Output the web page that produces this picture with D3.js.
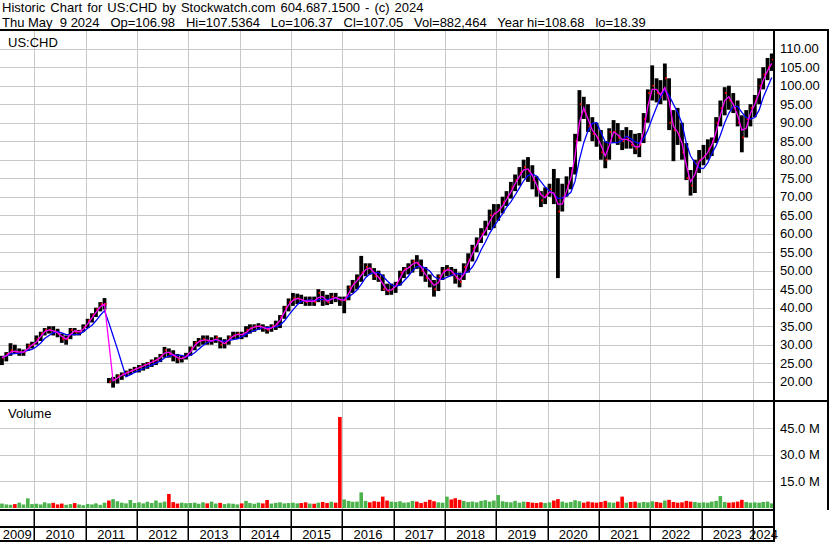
<!DOCTYPE html>
<html>
<head>
<meta charset="utf-8">
<script src="https://cdn.jsdelivr.net/npm/d3@7"></script>
<style>
  body { margin: 0; background: #fff; }
  svg { display: block; font-family: "Liberation Sans", Arial, sans-serif; }
</style>
</head>
<body>
<svg id="chart" width="830" height="543"></svg>
<script>
//Monthly bars from May 2009 to May 2024 (one value per month)
let startYear = 2009, startMonth = 4;

let priceHigh = [
  27, 28, 30.4, 30, 29, 28.7, 30.3, 30.8,
  32.5, 33.5, 34.5, 35, 35, 34.3, 33, 32.5, 34.5, 34.5, 34, 35.5,
  37, 38.5, 40, 41.5, 42.6, 21, 21.3, 22, 22.5, 23, 23.5, 24,
  24.5, 25, 25.3, 26, 26.6, 27.5, 29.4, 29, 28.5, 27.5, 27, 27.8,
  29.5, 31, 31.8, 32.5, 32.5, 32, 32.5, 32, 31.5, 32.5, 33.5, 33.5,
  33.5, 35, 35.5, 35.5, 35.8, 35.5, 35, 35.5, 36.5, 38, 40.5, 42.5,
  44, 43.8, 43.5, 43, 43, 43, 45, 44.5, 43.5, 44, 44, 43,
  43, 46, 47.5, 49, 54, 52, 52, 50.7, 50, 49, 46.5, 46.5,
  47, 50, 51, 52, 53, 54.2, 53, 51, 49, 47.5, 49, 51,
  51.5, 51, 50.5, 49.5, 52, 54.7, 57, 59, 61.5, 63.5, 66.5, 68,
  68, 70, 71.5, 74, 76, 78, 80, 80.7, 78.5, 75.5, 71.5, 72.5,
  73.5, 77.5, 75, 73.5, 75.5, 78, 87, 98.8, 97, 95, 91.5, 90,
  88, 85, 88.5, 90.7, 89.9, 88, 88.8, 88, 87, 87.2, 92.6, 99,
  105.5, 102, 101.5, 106, 102, 93.4, 94, 90, 84.5, 77.2, 80, 82.6,
  84, 85.5, 86, 91.5, 96, 99.6, 100, 98, 96, 92, 93.4, 95,
  97.5, 102, 105, 107.5, 108.7
];

let priceLow = [
  24.5, 25.5, 27, 27.5, 27, 27, 28.3, 29,
  30, 31, 32.5, 33, 32.5, 32, 30.5, 30, 31.5, 32.5, 32.5, 33.5,
  34.5, 36, 37.5, 39, 39.5, 19.6, 18.4, 19.5, 20.5, 21.5, 21.8, 22.5,
  22.5, 23, 23.5, 24, 24.5, 25.3, 26.5, 26.5, 25.5, 25, 25.2, 26,
  27, 28.5, 29.5, 30, 30, 30, 30.5, 29, 29, 30, 31.5, 31.5,
  31.5, 32, 33, 33.5, 34, 33.5, 33, 33.5, 34, 34.5, 37, 39,
  40.5, 41, 41, 40.5, 40.5, 40.5, 41.5, 40.5, 40.7, 41, 41.5, 40.5,
  38.5, 42, 44, 45, 47, 48.5, 49, 47.5, 47, 44.5, 43.4, 43.5,
  44, 46, 48, 49, 49.5, 50.5, 48.5, 47, 45.5, 43, 44.5, 47.5,
  48.5, 48.5, 46.5, 45.5, 47.5, 49.5, 52.5, 55, 57.5, 59.5, 61, 61.5,
  63.5, 65.5, 67.5, 69.5, 71.5, 73, 75, 74, 72, 70, 67.2, 68,
  70, 68, 48, 66, 70, 72, 76, 85, 91, 87.5, 85, 83.5,
  80, 77.7, 80, 84.5, 84, 82.6, 83, 83, 81.5, 80.7, 84.5, 90,
  96, 95.5, 95, 96, 88, 79.6, 84, 80, 74.5, 70.3, 71, 76.4,
  78.5, 80, 81, 84.5, 89, 92, 93.5, 92.6, 89, 82, 86, 89,
  91.5, 95, 99, 101.5, 104
];

let priceClose = [
  26.5, 27.5, 28.5, 28, 28, 28, 29.8, 30,
  31.5, 33, 34, 34, 33.5, 33, 31.5, 31.5, 34, 33.5, 33.5, 34.8,
  36.5, 38, 39.5, 41, 41, 20, 20.5, 21.5, 22, 22.5, 23, 23.5,
  24, 24.5, 25, 25.5, 26, 27, 28.5, 27.5, 27, 26, 26.5, 27,
  29, 30.5, 31, 31.5, 31, 31, 32, 30, 30.5, 32, 32.5, 33,
  32.5, 34, 34.5, 35, 35, 34.5, 34, 35, 35.5, 37.5, 40, 41.5,
  42.5, 42.5, 42, 41.5, 42, 41.5, 44, 42, 41.5, 43, 42.5, 42,
  42, 45.5, 46.5, 48, 49.5, 51, 50.5, 48.5, 48, 45, 44.5, 45,
  46.5, 49.5, 50.5, 51, 52.5, 52, 50, 48, 47, 45, 48.5, 50,
  50.5, 49.5, 48, 47, 51, 53, 56, 58, 60, 61.5, 65, 65.5,
  66.5, 68.5, 70, 72.5, 74.5, 76.5, 78, 77, 74.5, 72, 69, 70.5,
  72, 70, 66, 70, 73, 77, 85, 95, 93, 89, 87, 86,
  82, 80, 87.5, 87.5, 86, 85, 86, 84, 83, 84, 91, 98,
  100, 98, 97, 102, 90, 88, 87, 82, 75, 73, 79, 80,
  81, 83, 85, 90, 94, 98, 96, 94, 90, 86, 91, 94,
  96, 100, 103, 105, 107.05
];

//Volume in millions of shares
let volume = [
  2.5, 2.0, 1.8, 2.2, 3.0, 2.0, 5.4, 2.2,
  2.4, 2.0, 3.2, 2.6, 2.9, 2.0, 2.5, 1.8, 2.2, 2.8, 2.0, 1.6,
  2.3, 2.0, 2.6, 1.8, 3.0, 4.2, 5.0, 3.8, 3.0, 2.6, 4.5, 2.8,
  3.2, 2.6, 3.5, 2.8, 4.2, 3.0, 3.6, 7.9, 3.3, 2.5, 3.0, 2.7,
  2.8, 3.0, 2.4, 3.2, 2.6, 3.6, 2.5, 2.9, 2.2, 2.6, 2.4, 2.0,
  2.6, 4.0, 2.8, 2.4, 3.0, 2.6, 4.5, 2.5, 2.9, 3.2, 2.6, 2.8,
  3.0, 2.6, 2.8, 3.2, 2.5, 2.4, 3.0, 3.4, 2.8, 3.5, 3.0, 51.2,
  4.8, 4.0, 3.5, 3.6, 8.8, 4.0, 3.2, 3.8, 3.5, 6.4, 4.2, 3.6,
  3.4, 3.8, 3.0, 3.2, 4.0, 3.6, 2.8, 3.5, 4.6, 3.8, 3.2, 3.0,
  6.4, 4.8, 5.5, 4.6, 4.0, 3.4, 3.6, 3.2, 4.0, 4.4, 3.6, 4.2,
  7.3, 3.8, 3.4, 3.2, 4.0, 3.0, 3.6, 3.4, 3.0, 2.8, 3.2, 2.8,
  3.2, 4.2, 5.0, 3.6, 3.0, 3.4, 4.4, 3.8, 3.0, 3.6, 3.2, 3.0,
  3.4, 4.0, 3.2, 3.0, 3.6, 6.4, 3.0, 3.4, 3.6, 3.0, 3.4, 3.2,
  3.8, 3.4, 3.0, 4.2, 4.6, 3.4, 3.0, 3.2, 4.0, 3.6, 3.4, 3.0,
  3.2, 3.0, 3.6, 4.0, 6.7, 3.4, 3.0, 3.2, 3.6, 4.6, 3.4, 3.0,
  3.2, 3.0, 3.4, 3.6, 2.6
];

let priceTicks = [20, 25, 30, 35, 40, 45, 50, 55, 60, 65, 70, 75, 80, 85, 90, 95, 100, 105, 110];
let volumeTicks = [15, 30, 45];
let yearLabels = ["2009", "2010", "2011", "2012", "2013", "2014", "2015", "2016", "2017", "2018", "2019", "2020", "2021", "2022", "2023", "2024"];

let headerLine1 = "Historic Chart for US:CHD by Stockwatch.com 604.687.1500 - (c) 2024";
let headerLine2 = "Thu May  9 2024   Op=106.98   Hi=107.5364   Lo=106.37   Cl=107.05   Vol=882,464   Year hi=108.68   lo=18.39";

//Moving average windows (in monthly bars)
let fastWindow = 2, slowWindow = 5;

let svg = d3.select("#chart");
let plotRight = 774, axisRight = 828;
let priceTop = 30, priceBottom = 401, volBottom = 510, yearSep = 527, chartBottom = 541;

let dates = priceClose.map((d, i) => new Date(startYear, startMonth + i, 15));
let bars = dates.map((d, i) => ({
  date: d, hi: priceHigh[i], lo: priceLow[i], cl: priceClose[i], vol: volume[i],
  up: i == 0 || priceClose[i] >= priceClose[i - 1]
}));

let x = d3.scaleTime().domain([new Date(2010, 0, 1), new Date(2024, 0, 1)]).range([34.4, 752.8]);
let y = d3.scaleLinear().domain([20, 110]).range([381.7, 48.7]);
let yv = d3.scaleLinear().domain([0, 45]).range([508, 428]);

//Simple moving average of the closes
function sma(n) {
  return priceClose.map((d, i) => d3.mean(priceClose.slice(Math.max(0, i - n + 1), i + 1)));
}

svg.append("defs").append("clipPath").attr("id", "plotclip")
  .append("rect").attr("x", 0).attr("y", priceTop).attr("width", plotRight).attr("height", volBottom - priceTop);

//Header texts
svg.append("text").attr("x", 2).attr("y", 12).attr("font-size", 13)
  .attr("word-spacing", 1.4).text(headerLine1);
svg.append("text").attr("x", 2).attr("y", 27).attr("font-size", 13)
  .style("white-space", "pre").text(headerLine2);

//Year boundaries used by the vertical gridlines and the bottom labels
let yearStarts = yearLabels.slice(1).map(s => new Date(+s, 0, 1));

let grid = svg.append("g").attr("stroke", "#c8c8c8").attr("stroke-width", 1).attr("shape-rendering", "crispEdges");
grid.selectAll(".vgrid").data(yearStarts).enter().append("line")
  .attr("x1", d => Math.round(x(d)) + 0.5).attr("x2", d => Math.round(x(d)) + 0.5)
  .attr("y1", priceTop).attr("y2", volBottom);
grid.selectAll(".hgrid").data(priceTicks).enter().append("line")
  .attr("x1", 0).attr("x2", plotRight)
  .attr("y1", d => Math.round(y(d)) + 0.5).attr("y2", d => Math.round(y(d)) + 0.5);
grid.selectAll(".vhgrid").data(volumeTicks).enter().append("line")
  .attr("x1", 0).attr("x2", plotRight)
  .attr("y1", d => Math.round(yv(d)) + 0.5).attr("y2", d => Math.round(yv(d)) + 0.5);

let plot = svg.append("g").attr("clip-path", "url(#plotclip)");

//Volume bars
plot.append("g").selectAll("rect").data(bars).enter().append("rect")
  .attr("x", d => x(d.date) - 1.8)
  .attr("width", 3.6)
  .attr("y", d => yv(d.vol))
  .attr("height", d => yv(0) - yv(d.vol))
  .attr("fill", d => d.up ? "#4cb34c" : "#ff0000");

//Price bars (high-low) with the close marked in red
plot.append("g").selectAll("rect").data(bars).enter().append("rect")
  .attr("x", d => x(d.date) - 1.9)
  .attr("width", 3.8)
  .attr("y", d => y(d.hi))
  .attr("height", d => y(d.lo) - y(d.hi))
  .attr("fill", "#000");
plot.append("g").selectAll("rect").data(bars).enter().append("rect")
  .attr("x", d => x(d.date) + 0.4)
  .attr("width", 1.6)
  .attr("y", d => y(d.cl) - 1)
  .attr("height", 2)
  .attr("fill", "#ff0000");

//Moving averages
let line = d3.line().x((d, i) => x(dates[i])).y(d => y(d));
plot.append("path").datum(sma(slowWindow)).attr("d", line)
  .attr("fill", "none").attr("stroke", "#0000ff").attr("stroke-width", 1.3);
plot.append("path").datum(sma(fastWindow)).attr("d", line)
  .attr("fill", "none").attr("stroke", "#ff00ff").attr("stroke-width", 1.3);

//Right axes
let priceAxis = d3.axisRight(y).tickValues(priceTicks).tickSize(0).tickPadding(6).tickFormat(d3.format(".2f"));
svg.append("g").attr("transform", "translate(" + plotRight + ",0)").call(priceAxis)
  .call(g => g.select(".domain").remove())
  .selectAll("text").attr("font-size", 13).attr("font-family", "Liberation Sans, Arial, sans-serif").attr("fill", "#000");

let volAxis = d3.axisRight(yv).tickValues(volumeTicks).tickSize(0).tickPadding(6).tickFormat(d => d.toFixed(1) + " M");
svg.append("g").attr("transform", "translate(" + plotRight + ",0)").call(volAxis)
  .call(g => g.select(".domain").remove())
  .selectAll("text").attr("font-size", 13).attr("font-family", "Liberation Sans, Arial, sans-serif").attr("fill", "#000");

//Panel titles
svg.append("text").attr("x", 8).attr("y", 47).attr("font-size", 13).text("US:CHD");
svg.append("text").attr("x", 8).attr("y", 418).attr("font-size", 13).text("Volume");

//Year labels centred in their segments
let yearEdges = [0].concat(yearStarts.map(d => x(d))).concat([plotRight]);
svg.append("g").selectAll("text").data(yearLabels).enter().append("text")
  .attr("x", (d, i) => (yearEdges[i] + yearEdges[i + 1]) / 2)
  .attr("y", 539)
  .attr("text-anchor", "middle")
  .attr("font-size", 13)
  .text(d => d);

//Frame lines
let frame = svg.append("g").attr("fill", "#000");
frame.append("rect").attr("x", 0).attr("y", priceTop - 1).attr("width", axisRight + 1).attr("height", 2);
frame.append("rect").attr("x", 0).attr("y", priceBottom - 1).attr("width", axisRight + 1).attr("height", 2);
frame.append("rect").attr("x", 0).attr("y", volBottom - 1).attr("width", plotRight + 1).attr("height", 2);
frame.append("rect").attr("x", 0).attr("y", yearSep - 1).attr("width", plotRight + 1).attr("height", 2);
frame.append("rect").attr("x", 0).attr("y", chartBottom - 1).attr("width", plotRight + 1).attr("height", 2);
frame.append("rect").attr("x", plotRight - 1).attr("y", priceTop - 1).attr("width", 2).attr("height", chartBottom - priceTop + 2);
frame.append("rect").attr("x", axisRight - 1).attr("y", priceTop - 1).attr("width", 2).attr("height", volBottom - priceTop + 1);
frame.selectAll(".ysep").data(yearStarts).enter().append("rect")
  .attr("x", d => Math.round(x(d)) - 0.5).attr("y", volBottom).attr("width", 1.5).attr("height", chartBottom - volBottom);
</script>
</body>
</html>
